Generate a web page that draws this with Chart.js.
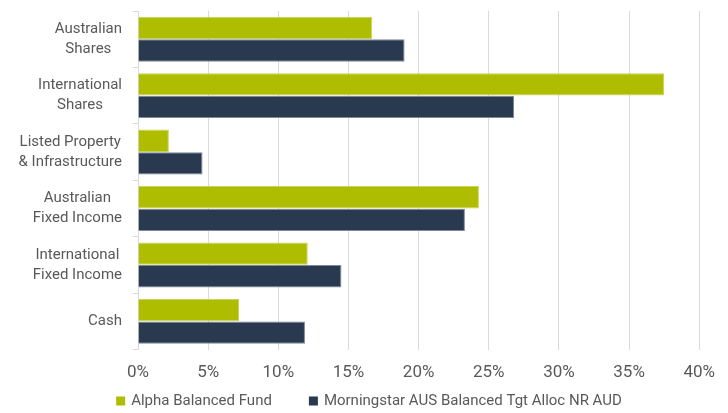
<!DOCTYPE html>
<html>
<head>
<meta charset="utf-8">
<script src="https://cdn.jsdelivr.net/npm/chart.js@4.4.1/dist/chart.umd.min.js"></script>
<style>
  html, body { margin: 0; padding: 0; background: #fff; }
  #wrap { width: 728px; height: 413px; }
</style>
</head>
<body>
<div id="wrap"><canvas id="allocChart"></canvas></div>
<script>
// Asset classes (each label is split over lines)
const categories = [
  ['Australian', 'Shares'],
  ['International', 'Shares'],
  ['Listed Property', '& Infrastructure'],
  ['Australian', 'Fixed Income'],
  ['International', 'Fixed Income'],
  ['Cash']
];
const seriesNames = ['Alpha Balanced Fund', 'Morningstar AUS Balanced Tgt Alloc NR AUD'];
const seriesColors = ['#afbd00', '#29394f'];
// Allocation in %
const fundValues = [16.7, 37.5, 2.2, 24.3, 12.1, 7.2];
const benchmarkValues = [19.0, 26.8, 4.6, 23.3, 14.5, 11.9];
const xTickValues = [0, 5, 10, 15, 20, 25, 30, 35, 40];

const textColor = '#595959';
const gridColor = '#d9d9d9';

// Category labels: right-aligned as a block, lines centred inside it.
// Also draws the legend below the x axis.
const labelsAndLegend = {
  id: 'labelsAndLegend',
  afterDraw(chart) {
    const scale = chart.scales.y;
    const ctx = chart.ctx;
    ctx.save();
    ctx.font = '15px Roboto';
    ctx.fillStyle = textColor;
    ctx.textAlign = 'center';
    ctx.textBaseline = 'middle';
    const right = scale.right - 16;
    categories.forEach((lines, i) => {
      const y = scale.getPixelForTick(i);
      const w = Math.max(...lines.map(l => ctx.measureText(l).width));
      const cx = right - w / 2;
      lines.forEach((line, j) => {
        ctx.fillText(line, cx, y + (j - (lines.length - 1) / 2) * 20);
      });
    });

    // legend
    const box = 9, gap = 6, spacing = 37;
    const widths = seriesNames.map(n => box + gap + ctx.measureText(n).width);
    const total = widths.reduce((a, b) => a + b, 0) + spacing * (widths.length - 1);
    let x = chart.width / 2 + 5 - total / 2;
    const y = chart.height - 12;
    ctx.textAlign = 'left';
    seriesNames.forEach((name, i) => {
      ctx.fillStyle = seriesColors[i];
      ctx.fillRect(x, y - box / 2, box, box);
      ctx.fillStyle = textColor;
      ctx.fillText(name, x + box + gap, y);
      x += widths[i] + spacing;
    });
    ctx.restore();
  }
};

new Chart(document.getElementById('allocChart'), {
  type: 'bar',
  data: {
    labels: categories,
    datasets: [
      {
        label: seriesNames[0],
        data: fundValues,
        backgroundColor: seriesColors[0],
        borderColor: '#c8d35a',
        borderWidth: 1
      },
      {
        label: seriesNames[1],
        data: benchmarkValues,
        backgroundColor: seriesColors[1],
        borderColor: '#7d8899',
        borderWidth: 1
      }
    ]
  },
  options: {
    indexAxis: 'y',
    responsive: true,
    maintainAspectRatio: false,
    animation: false,
    layout: { padding: { left: 8, right: 15, top: 11, bottom: 17 } },
    datasets: { bar: { categoryPercentage: 0.8, barPercentage: 0.99 } },
    scales: {
      x: {
        min: 0,
        max: 40,
        afterBuildTicks: axis => { axis.ticks = xTickValues.map(v => ({ value: v })); },
        grid: { color: gridColor, drawTicks: false },
        border: { display: false },
        ticks: {
          padding: 13,
          color: textColor,
          font: { family: 'Roboto', size: 17 },
          callback: value => value + '%'
        }
      },
      y: {
        afterFit: axis => { axis.width = 130; },
        grid: { color: gridColor, drawOnChartArea: false, drawTicks: true, tickLength: 5 },
        border: { display: true, color: gridColor },
        ticks: { display: false }
      }
    },
    plugins: {
      legend: { display: false },
      tooltip: { enabled: false }
    }
  },
  plugins: [labelsAndLegend]
});
</script>
</body>
</html>
